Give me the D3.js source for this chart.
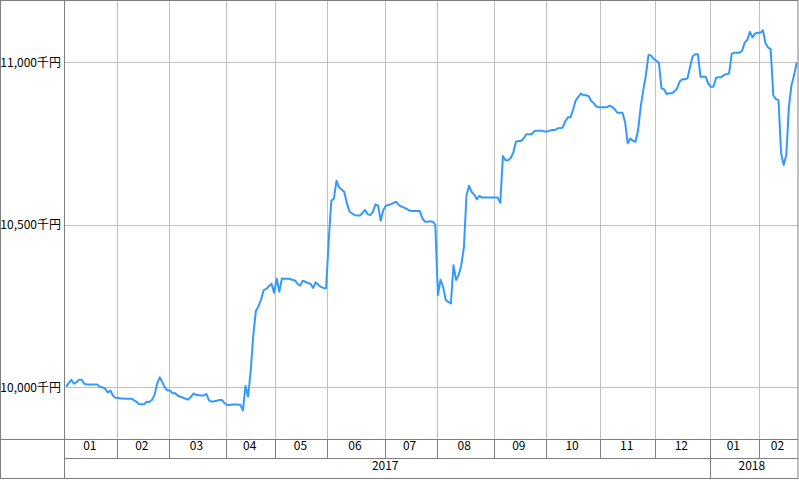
<!DOCTYPE html>
<html>
<head>
<meta charset="utf-8">
<script src="https://cdn.jsdelivr.net/npm/d3@7"></script>
<style>
  body { margin: 0; background: #fff; }
  svg text { font-family: "Noto Sans CJK JP", "DejaVu Sans", sans-serif; fill: #000; }
</style>
</head>
<body>
<script>
// 月ラベル・年ラベル
var monthLabels = ["01","02","03","04","05","06","07","08","09","10","11","12","01","02"];
var monthYears  = ["2017","2017","2017","2017","2017","2017","2017","2017","2017","2017","2017","2017","2018","2018"];

// 日次の評価額(千円)、月ごと
var dailyValues = [
  [10001,10012,10022,10010,10015,10022,10022,10010,10008,10008,10008,10008,10008,10000,9999,9995,9983,9989,9974,9967],
  [9966,9965,9965,9964,9964,9964,9960,9955,9948,9947,9947,9955,9954,9960,9975,10010,10030,10015,9998,9989],
  [9989,9981,9981,9973,9970,9967,9964,9961,9970,9980,9976,9975,9974,9974,9978,9958,9955,9956,9958,9960,9960,9950],
  [9945,9945,9946,9946,9946,9945,9928,10003,9970,10050,10160,10235,10248,10270,10298,10302,10310,10318,10290],
  [10334,10293,10334,10333,10333,10333,10330,10328,10318,10312,10327,10324,10320,10318,10305,10322,10315,10308,10305,10304],
  [10450,10573,10580,10635,10614,10608,10600,10565,10540,10534,10529,10528,10528,10535,10545,10532,10529,10540,10562,10558,10512,10545],
  [10558,10560,10563,10567,10570,10560,10555,10552,10548,10543,10542,10542,10542,10542,10520,10509,10509,10510,10509,10500],
  [10283,10330,10309,10268,10262,10257,10375,10329,10345,10375,10430,10590,10619,10600,10592,10578,10588,10583,10583,10583,10583,10583],
  [10583,10583,10567,10711,10698,10698,10705,10721,10755,10757,10757,10765,10778,10778,10778,10787,10789,10789,10789,10786],
  [10786,10789,10791,10791,10796,10797,10798,10818,10830,10830,10854,10882,10893,10903,10898,10898,10895,10880,10873,10863,10861],
  [10861,10861,10861,10866,10862,10855,10844,10844,10844,10815,10750,10765,10758,10755,10791,10862,10914,10960,11022,11020,11010],
  [11004,10998,10919,10916,10902,10904,10904,10910,10919,10940,10947,10947,10950,10986,11018,11024,11024,10955,10955,10955,10934],
  [10924,10924,10952,10953,10953,10960,10963,10965,11025,11029,11029,11029,11035,11060,11068,11093,11076,11088,11090],
  [11090,11098,11058,11045,11039,10898,10886,10883,10719,10683,10714,10862,10929,10960,10998]
];

var yTicks = [10000, 10500, 11000];
var yTickLabels = ["10,000千円", "10,500千円", "11,000千円"];

// 寸法
var W = 799, H = 480;
var plot = {left: 64.8, right: 798, top: 1, bottom: 439};
var rowMonth = 458, rowYear = 478.5;
var frameColor = "#7f7f7f", gridColor = "#c0c0c0", lineColor = "#3399ff";

// データを平らにする
var series = [];
var monthStart = [];
dailyValues.forEach(function(m, mi) {
  monthStart.push(series.length);
  m.forEach(function(v) { series.push({i: series.length, v: v, m: mi}); });
});

// スケール
var xScale = d3.scaleBand().domain(d3.range(series.length)).range([plot.left, plot.right]);
var yScale = d3.scaleLinear().domain([9840, 11188]).range([plot.bottom, plot.top]);
function px(x) { return Math.round(x) + 0.5; }

var svg = d3.select("body").append("svg")
  .attr("width", W).attr("height", H);

// グリッド
svg.append("g").selectAll("line.h").data(yTicks).enter().append("line")
  .attr("x1", 64).attr("x2", 798)
  .attr("y1", function(d){ return px(yScale(d)); })
  .attr("y2", function(d){ return px(yScale(d)); })
  .attr("stroke", gridColor);

svg.append("g").selectAll("line.v").data(monthStart.slice(1)).enter().append("line")
  .attr("x1", function(d){ return px(xScale(d)); })
  .attr("x2", function(d){ return px(xScale(d)); })
  .attr("y1", 0).attr("y2", plot.bottom)
  .attr("stroke", gridColor);

// 折れ線
var myLine = d3.line()
  .x(function(d){ return xScale(d.i) + xScale.bandwidth() / 2; })
  .y(function(d){ return yScale(d.v); });

svg.append("path")
  .datum(series)
  .attr("fill", "none")
  .attr("stroke", lineColor)
  .attr("stroke-width", 2)
  .attr("stroke-linejoin", "round")
  .attr("d", myLine);

// Y軸ラベル
svg.append("g").selectAll("text").data(yTicks).enter().append("text")
  .attr("x", 61)
  .attr("y", function(d){ return yScale(d) + 4.5; })
  .attr("text-anchor", "end")
  .attr("font-size", 12)
  .text(function(d, k){ return yTickLabels[k]; });

// 枠と軸の線
var frame = svg.append("g").attr("stroke", frameColor).attr("fill", "none");
frame.append("rect").attr("x", 0.5).attr("y", 0.5).attr("width", 797.5).attr("height", 478);
frame.append("line").attr("x1", 64.5).attr("x2", 64.5).attr("y1", 0).attr("y2", rowYear);
frame.append("line").attr("x1", 0).attr("x2", 798).attr("y1", plot.bottom + 0.5).attr("y2", plot.bottom + 0.5);
frame.append("line").attr("x1", 64).attr("x2", 798).attr("y1", rowMonth + 0.5).attr("y2", rowMonth + 0.5);

frame.selectAll("line.ms").data(monthStart.slice(1)).enter().append("line")
  .attr("x1", function(d){ return px(xScale(d)); })
  .attr("x2", function(d){ return px(xScale(d)); })
  .attr("y1", plot.bottom).attr("y2", rowMonth);

// 年の区切り
var yearStart = monthStart.filter(function(s, k){ return k > 0 && monthYears[k] !== monthYears[k-1]; });
frame.selectAll("line.ys").data(yearStart).enter().append("line")
  .attr("x1", function(d){ return px(xScale(d)); })
  .attr("x2", function(d){ return px(xScale(d)); })
  .attr("y1", rowMonth).attr("y2", rowYear);

// 月ラベル
svg.append("g").selectAll("text").data(monthLabels).enter().append("text")
  .attr("x", function(d, k){
    var a = xScale(monthStart[k]);
    var b = k + 1 < monthStart.length ? xScale(monthStart[k+1]) : plot.right;
    return (a + b) / 2 - 1;
  })
  .attr("y", 450)
  .attr("text-anchor", "middle")
  .attr("font-size", 12)
  .text(function(d){ return d; });

// 年ラベル
var years = Array.from(new Set(monthYears));
svg.append("g").selectAll("text").data(years).enter().append("text")
  .attr("x", function(y){
    var first = monthYears.indexOf(y), last = monthYears.lastIndexOf(y);
    var a = xScale(monthStart[first]);
    var b = last + 1 < monthStart.length ? xScale(monthStart[last+1]) : plot.right;
    return (a + b) / 2 - 2;
  })
  .attr("y", 469.5)
  .attr("text-anchor", "middle")
  .attr("font-size", 12)
  .text(function(d){ return d; });
</script>
</body>
</html>
